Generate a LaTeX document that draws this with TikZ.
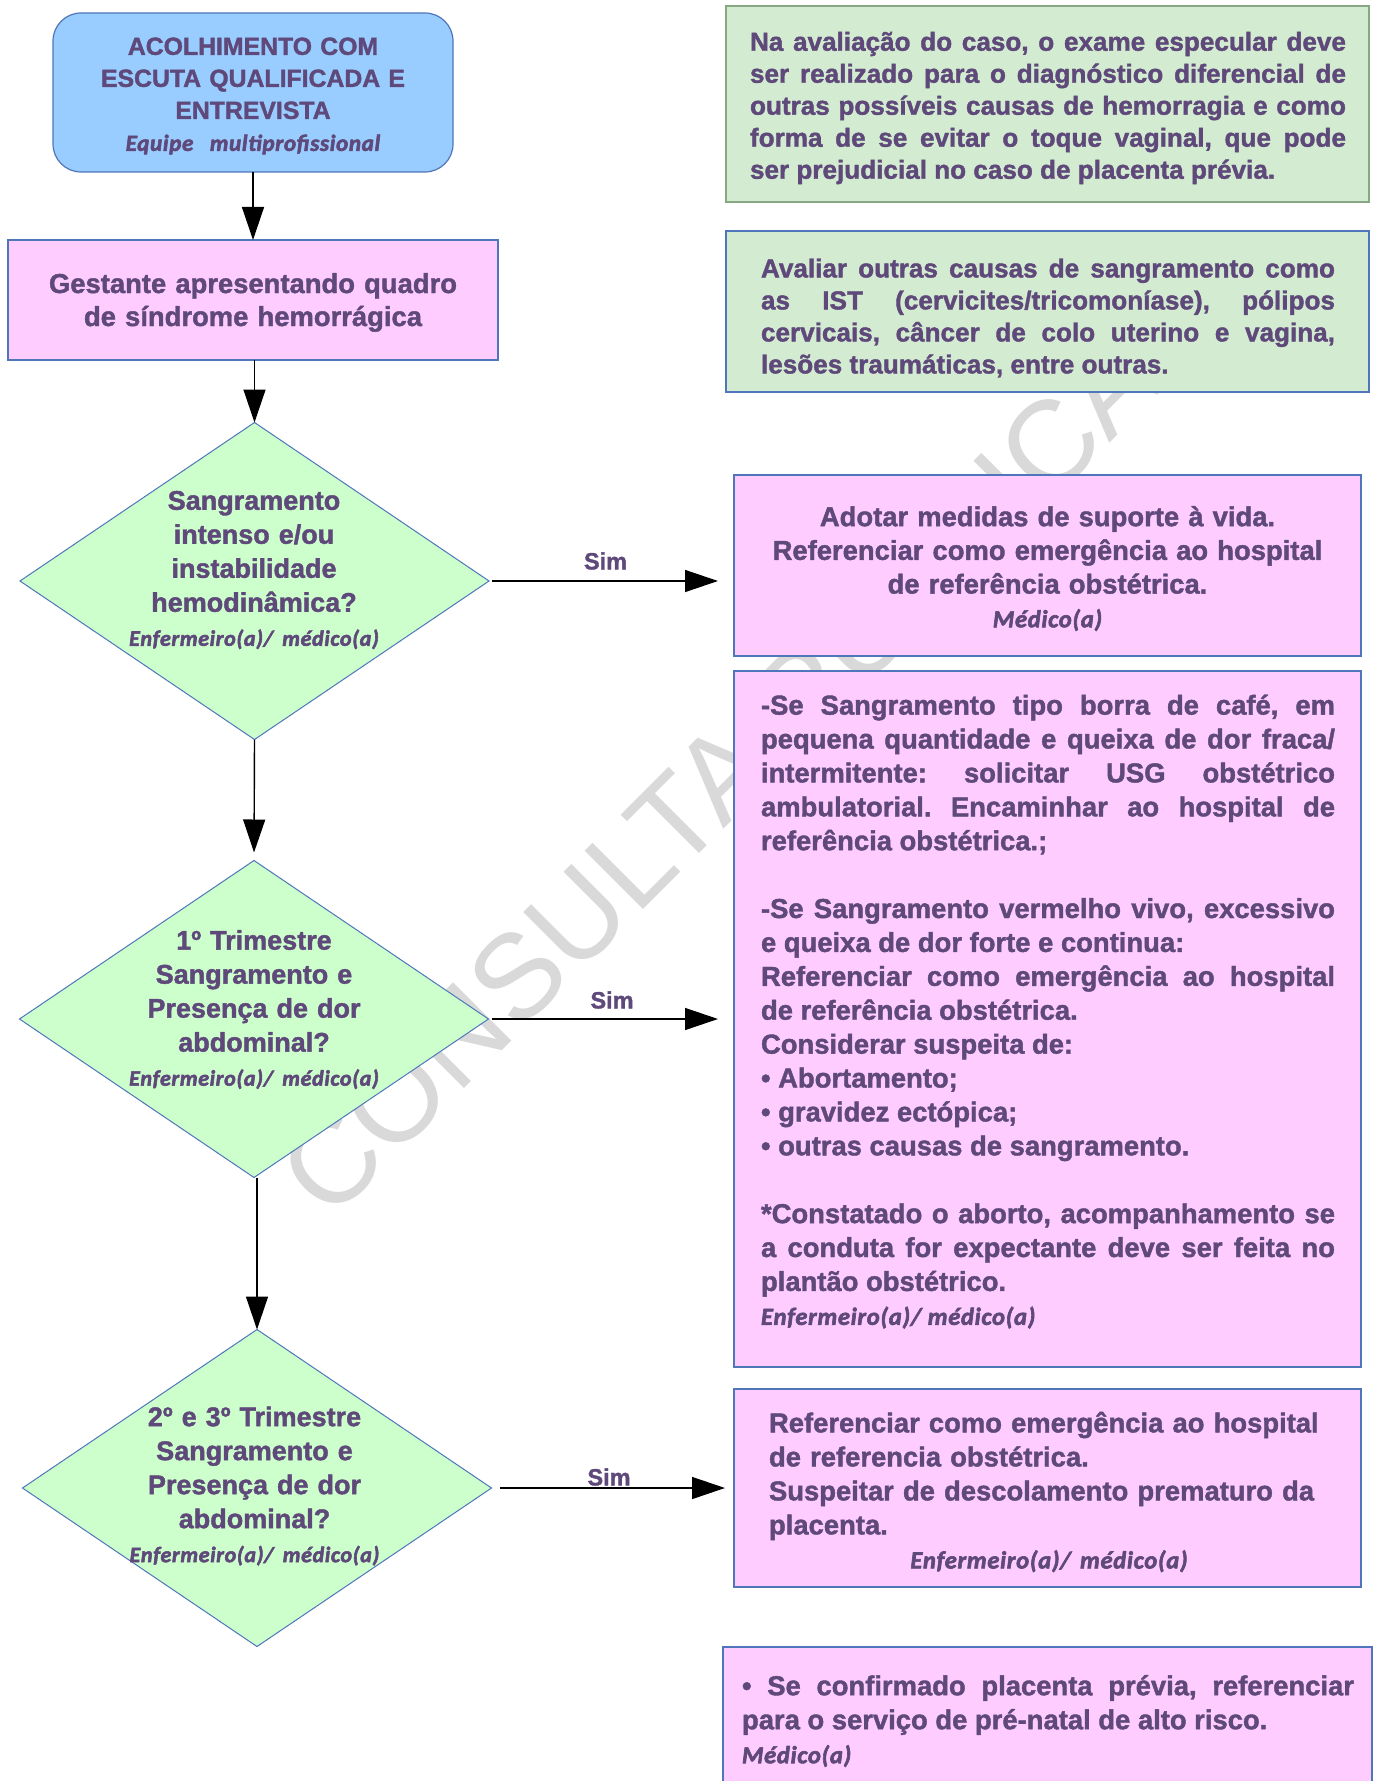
\documentclass[tikz,border=0pt]{standalone}
\usepackage{fontspec}
\setmainfont{Liberation Sans}[BoldFeatures={FakeBold=1.5}]
\newfontfamily\rolefont{Carlito}[LetterSpace=3, BoldItalicFeatures={FakeBold=2.5}]
\usetikzlibrary{shapes.geometric,arrows.meta}
\definecolor{txt}{HTML}{5F497A}
\definecolor{bluefill}{HTML}{99CCFF}
\definecolor{pinkfill}{HTML}{FFCCFF}
\definecolor{diamfill}{HTML}{CCFFCC}
\definecolor{notefill}{HTML}{D3ECD1}
\definecolor{edgeblue}{HTML}{4F76BA}
\definecolor{edgegreen}{HTML}{86A882}
\definecolor{wmgray}{HTML}{D9D9D9}
\tolerance=9999 \hyphenpenalty=10000 \exhyphenpenalty=10000
\frenchspacing
\newcommand\rolelab[1]{{\rolefont\bfseries\itshape #1}}
\newcommand\fsmain{\fontsize{13.7pt}{16.95pt}\selectfont\bfseries}
\newcommand\fsnote{\fontsize{13.05pt}{16pt}\selectfont\bfseries}
\newcommand\fsrole{\fontsize{12.25pt}{16.95pt}\selectfont}
\newcommand\fsroled{\fontsize{11pt}{17pt}\selectfont}
\begin{document}
\begin{tikzpicture}[x=0.5pt,y=-0.5pt,
  every node/.style={text=txt, inner sep=0pt, outer sep=0pt},
  bluebox/.style={draw=edgeblue, fill=bluefill, line width=0.6pt, rounded corners=14pt, rectangle},
  pinkbox/.style={draw=edgeblue, fill=pinkfill, line width=0.6pt, rectangle},
  notebox/.style={fill=notefill, line width=0.6pt, rectangle},
  diam/.style={draw=edgeblue, fill=diamfill, line width=0.5pt, diamond, minimum width=234.5pt, minimum height=158.5pt},
  dtext/.style={text width=150pt, align=center, font=\fontsize{13.5pt}{17pt}\selectfont\bfseries},
  simlab/.style={font=\fontsize{11.75pt}{14pt}\selectfont\bfseries},
  arr/.style={draw=black, line width=0.7pt, -{Triangle[length=16.5pt, width=11pt]}}
]
\useasboundingbox (0,0) rectangle (1377,1781);
\fill[white] (0,0) rectangle (1377,1781);

% watermark
\node[rotate=45, text=wmgray, font=\fontsize{60pt}{60pt}\selectfont] (wmark) at (712,768) {CONSULTA PÚBLICA};

% left column
\node[bluebox, minimum width=200pt, minimum height=79.5pt] (acol) at (253,92.5) {};
\node[text width=195pt, align=center, font=\fontsize{12.4pt}{16pt}\selectfont\bfseries] (acolt) at (253,96)
  {ACOLHIMENTO COM\\ESCUTA QUALIFICADA E\\ENTREVISTA\\{\fontsize{11.5pt}{16pt}\selectfont\rolelab{Equipe\ \ multiprofissional}}};

\node[pinkbox, minimum width=245pt, minimum height=60pt] (gest) at (253,300) {};
\node[text width=240pt, align=center, font=\fontsize{13.7pt}{16.5pt}\selectfont\bfseries] (gestt) at (253,302.5)
  {Gestante apresentando quadro\\de síndrome hemorrágica};

\node[diam] (d1) at (254.5,581) {};
\node[dtext] (d1t) at (254,570)
  {Sangramento\\intenso e/ou\\instabilidade\\hemodinâmica?\\{\fsroled\rolelab{Enfermeiro(a)/ médico(a)}}};

\node[diam] (d2) at (254,1019) {};
\node[dtext] (d2t) at (254,1009.5)
  {1º Trimestre\\Sangramento e\\Presença de dor\\abdominal?\\{\fsroled\rolelab{Enfermeiro(a)/ médico(a)}}};

\node[diam] (d3) at (257,1488) {};
\node[dtext] (d3t) at (254.5,1486)
  {2º e 3º Trimestre\\Sangramento e\\Presença de dor\\abdominal?\\{\fsroled\rolelab{Enfermeiro(a)/ médico(a)}}};

% right column
\node[notebox, draw=edgegreen, minimum width=321.5pt, minimum height=98pt] (g1) at (1047.5,104) {};
\node[text width=298pt, align=justify, font=\fsnote] (g1t) at (1048,108)
  {Na avaliação do caso, o exame especular deve\linebreak
   ser realizado para o diagnóstico diferencial de\linebreak
   outras possíveis causas de hemorragia e como\linebreak
   forma de se evitar o toque vaginal, que pode\linebreak
   ser prejudicial no caso de placenta prévia.};

\node[notebox, draw=edgeblue, minimum width=321.5pt, minimum height=80.5pt] (g2) at (1047.5,311.5) {};
\node[text width=287pt, align=justify, font=\fsnote] (g2t) at (1048,318)
  {Avaliar outras causas de sangramento como\linebreak
   as IST (cervicites/tricomoníase), pólipos\linebreak
   cervicais, câncer de colo uterino e vagina,\linebreak
   lesões traumáticas, entre outras.};

\node[pinkbox, minimum width=313.5pt, minimum height=90.5pt] (c1) at (1047.5,565.5) {};
\node[text width=300pt, align=center, font=\fontsize{13.7pt}{16.85pt}\selectfont\bfseries] (c1t) at (1047.5,568.5)
  {Adotar medidas de suporte à vida.\\Referenciar como emergência ao hospital\\de referência obstétrica.\\{\fsrole\rolelab{Médico(a)}}};

\node[pinkbox, minimum width=313.5pt, minimum height=348pt] (c2) at (1047.5,1019) {};
\node[text width=287pt, align=justify, font=\fsmain] (c2t) at (1048,1011.5)
  {-Se Sangramento tipo borra de café, em\linebreak
   pequena quantidade e queixa de dor fraca/\linebreak
   intermitente: solicitar USG obstétrico\linebreak
   ambulatorial. Encaminhar ao hospital de\linebreak
   referência obstétrica.;\par
   \vspace{\baselineskip}
   -Se Sangramento vermelho vivo, excessivo\linebreak
   e queixa de dor forte e continua:\newline
   Referenciar como emergência ao hospital\linebreak
   de referência obstétrica.\newline
   Considerar suspeita de:\newline
   • Abortamento;\newline
   • gravidez ectópica;\newline
   • outras causas de sangramento.\par
   \vspace{\baselineskip}
   *Constatado o aborto, acompanhamento se\linebreak
   a conduta for expectante deve ser feita no\linebreak
   plantão obstétrico.\newline
   {\fsrole\rolelab{Enfermeiro(a)/ médico(a)}}};

\node[pinkbox, minimum width=313.5pt, minimum height=99pt] (c3) at (1047.5,1488) {};
\node[text width=280pt, align=left, font=\fontsize{13.7pt}{17pt}\selectfont\bfseries] (c3t) at (1049,1492)
  {Referenciar como emergência ao hospital\\
   de referencia obstétrica.\\
   Suspeitar de descolamento prematuro da\\
   placenta.\\
   \makebox[\linewidth]{\fsrole\rolelab{Enfermeiro(a)/ médico(a)}}};

\node[pinkbox, minimum width=324.5pt, minimum height=76.5pt] (c4) at (1047.5,1723.5) {};
\node[text width=306pt, align=justify, font=\fontsize{13.7pt}{17pt}\selectfont\bfseries] (c4t) at (1048,1721)
  {• Se confirmado placenta prévia, referenciar\linebreak
   para o serviço de pré-natal de alto risco.\newline
   {\fsrole\rolelab{Médico(a)}}};

% connectors
\draw[arr] (acol.south) -- (gest.north);
\draw[arr] (d1.north |- gest.south) -- (d1.north);
\draw[arr, shorten <=1.5pt, shorten >=8pt] (d1.east) -- (d1.east -| c1.west);
\draw[arr, shorten >=4pt] (d1.south) -- (d2.north);
\draw[arr, shorten <=1.5pt, shorten >=8pt] (d2.east) -- (d2.east -| c2.west);
\draw[arr] (d3.north |- d2.south) -- (d3.north);
\draw[arr, shorten <=4pt, shorten >=4.5pt] (d3.east) -- (d3.east -| c3.west);

\node[simlab] (sim1) at (605.5,561) {Sim};
\node[simlab] (sim2) at (612,1000) {Sim};
\node[simlab] (sim3) at (609,1477) {Sim};
\end{tikzpicture}
\end{document}
